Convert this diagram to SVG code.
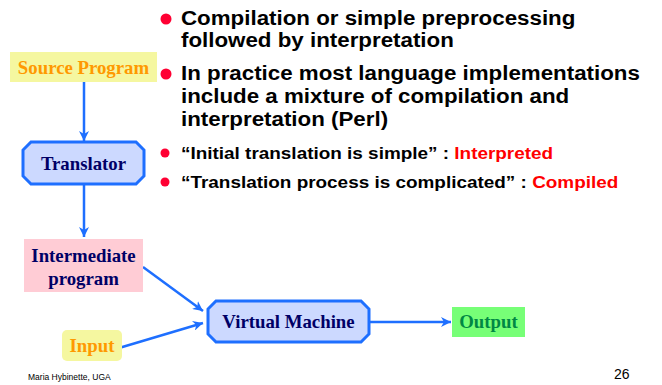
<svg xmlns="http://www.w3.org/2000/svg" width="662" height="385" viewBox="0 0 662 385">
<style>
.node{font-family:"Liberation Serif","Times New Roman",serif;font-weight:bold;font-size:18.8px;text-anchor:middle}
.navy{fill:#000066}
.orange{fill:#FF9900}
.oct{fill:#CCD9FF;stroke:#1E6FFF;stroke-width:3}
.bul{font-family:"Liberation Sans",Arial,sans-serif;font-weight:bold;fill:#000}
.big{font-size:20.3px}
.small{font-size:17.2px}
.red{fill:#FF0000}
.conn{stroke:#1E6FFF;stroke-width:2.5;fill:none}
</style>
<defs>
<marker id="ah" viewBox="0 0 10 10" refX="10" refY="5" markerWidth="4" markerHeight="4" orient="auto" markerUnits="strokeWidth">
<path d="M0,0 L10,5 L0,10 L3,5 Z" fill="#1E6FFF"/>
</marker>
</defs>
<rect width="662" height="385" fill="#fff"/>
<g id="connectors">
<line class="conn" x1="84" y1="82" x2="84" y2="141" marker-end="url(#ah)"/>
<line class="conn" x1="84" y1="184" x2="84" y2="237" marker-end="url(#ah)"/>
<line class="conn" x1="143" y1="267" x2="203" y2="311" marker-end="url(#ah)"/>
<line class="conn" x1="119" y1="348" x2="203" y2="323" marker-end="url(#ah)"/>
<line class="conn" x1="369" y1="322" x2="451" y2="322" marker-end="url(#ah)"/>
</g>
<g id="source">
<rect x="10" y="52" width="147" height="30" fill="#F5F7A0"/>
<text class="node orange" x="83.5" y="74">Source Program</text>
</g>
<g id="translator">
<polygon class="oct" points="31,142 136,142 144,150 144,176 136,184 31,184 23,176 23,150"/>
<text class="node navy" x="83.5" y="170">Translator</text>
</g>
<g id="intermediate">
<rect x="24" y="239" width="119" height="53" fill="#FFCCD5"/>
<text class="node navy" x="83.5" y="262">Intermediate</text>
<text class="node navy" x="83.5" y="285">program</text>
</g>
<g id="input">
<rect x="62" y="330" width="60" height="31" rx="5" fill="#F5F7A0"/>
<text class="node orange" x="92" y="352">Input</text>
</g>
<g id="vm">
<polygon class="oct" points="216,301 361,301 369,309 369,334 361,342 216,342 208,334 208,309"/>
<text class="node navy" x="288.5" y="328">Virtual Machine</text>
</g>
<g id="output">
<rect x="452" y="307" width="73" height="30" fill="#77FF77"/>
<text class="node" fill="#008844" x="488.5" y="328">Output</text>
</g>
<g id="bullets">
<circle cx="166" cy="19" r="5.5" fill="#FF0033"/>
<circle cx="166" cy="74" r="5.5" fill="#FF0033"/>
<circle cx="165" cy="153" r="4.5" fill="#FF0033"/>
<circle cx="165" cy="182" r="4.5" fill="#FF0033"/>
<g transform="translate(181,0) scale(1.1,1)">
<text class="bul big" x="0" y="25">Compilation or simple preprocessing</text>
<text class="bul big" x="0" y="47">followed by interpretation</text>
<text class="bul big" x="0" y="80">In practice most language implementations</text>
<text class="bul big" x="0" y="103">include a mixture of compilation and</text>
<text class="bul big" x="0" y="126">interpretation (Perl)</text>
<text class="bul small" x="0" y="159">“Initial translation is simple” : <tspan class="red">Interpreted</tspan></text>
<text class="bul small" x="0" y="188">“Translation process is complicated” : <tspan class="red">Compiled</tspan></text>
</g>
</g>
<text x="28" y="380" font-family="Liberation Sans,Arial,sans-serif" font-size="8.5" fill="#000">Maria Hybinette, UGA</text>
<text x="614" y="379" font-family="Liberation Sans,Arial,sans-serif" font-size="14" fill="#000">26</text>
</svg>
